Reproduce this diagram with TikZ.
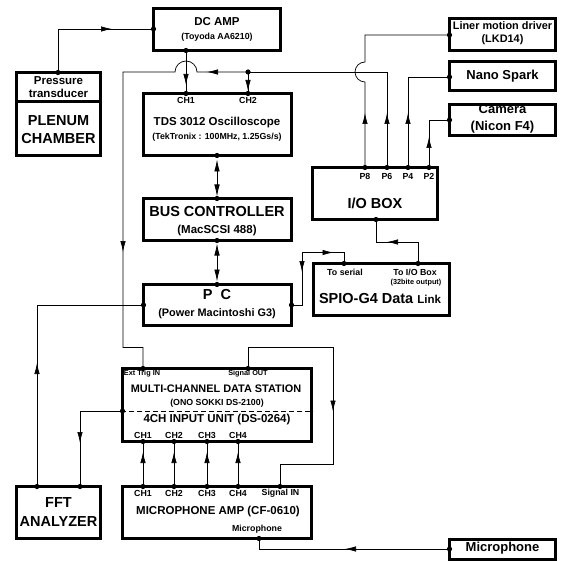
\documentclass[tikz,border=0pt]{standalone}
\usepackage{fontspec}
\setmainfont{Liberation Sans}
\usepackage{tikz}
\usetikzlibrary{arrows.meta}
\usetikzlibrary{decorations.markings}

\tikzset{
  box/.style={draw, line width=3pt, inner sep=0pt},
  wire/.style={line width=0.7pt},
  fwd/.style={postaction={decorate, decoration={markings, mark=at position #1 with {\arrow{>}}}}},
  bwd/.style={postaction={decorate, decoration={markings, mark=at position #1 with {\arrowreversed{>}}}}},
  txt/.style={inner sep=0pt, align=center},
  t145/.style={txt, font=\fontsize{14.5pt}{18pt}\selectfont\bfseries},
  t13/.style={txt, font=\fontsize{13pt}{17pt}\selectfont\bfseries},
  t115/.style={txt, font=\fontsize{11.5pt}{13pt}\selectfont\bfseries},
  t11/.style={txt, font=\fontsize{10.9pt}{13pt}\selectfont\bfseries},
  t88/.style={txt, font=\fontsize{8.8pt}{10pt}\selectfont\bfseries},
  t73/.style={txt, font=\fontsize{7.3pt}{9pt}\selectfont\bfseries}
}

\begin{document}
\begin{tikzpicture}[x=1pt, y=-1pt, >={Latex[length=11pt,width=5.5pt]}]
      \useasboundingbox (0,0) rectangle (564,561);
      % Boxes
      \node[box, minimum width=127pt, minimum height=42pt] (dcamp) at (217,29.5) {};
      \node[box, minimum width=84pt, minimum height=29.5pt] (pres) at (58.5,87.25) {};
      \node[box, minimum width=84pt, minimum height=53.5pt] (plenum) at (58.5,128.75) {};
      \node[box, minimum width=148pt, minimum height=62pt] (osc) at (217.5,124.5) {};
      \node[box, minimum width=148pt, minimum height=42pt] (bus) at (217.5,219.5) {};
      \node[box, minimum width=148pt, minimum height=41pt] (pc) at (217.5,305) {};
      \node[box, minimum width=106pt, minimum height=32pt] (liner) at (502.5,34.5) {};
      \node[box, minimum width=106pt, minimum height=29pt] (nano) at (502.5,76) {};
      \node[box, minimum width=106pt, minimum height=31pt] (camera) at (502.5,120) {};
      \node[box, minimum width=125pt, minimum height=52pt] (iobox) at (375,193.5) {};
      \node[box, minimum width=136pt, minimum height=52pt] (spio) at (381.5,289.5) {};
      \node[box, minimum width=189pt, minimum height=73pt] (station) at (217,405) {};
      \node[box, minimum width=84pt, minimum height=52pt] (fft) at (58.5,512.5) {};
      \node[box, minimum width=189pt, minimum height=52pt] (micamp) at (217,512.5) {};
      \node[box, minimum width=106pt, minimum height=19.5pt] (mic) at (502.5,549.25) {};
      \draw[dashed, dash pattern=on 5pt off 3pt, line width=0.6pt] (station.west |- 0,411) -- (station.east |- 0,411);
      % Texts
      \node[t115] (dcamp-name) at (217,22) {DC AMP};
      \node[t88] (dcamp-type) at (217,37) {(Toyoda AA6210)};
      \node[t115] (pres-name) at (58.5,87.5) {Pressure\\transducer};
      \node[t145] (plenum-name) at (58.5,130) {PLENUM\\CHAMBER};
      \node[t88] (osc-ch1-lbl) at (186,100) {CH1};
      \node[t88] (osc-ch2-lbl) at (248,100) {CH2};
      \node[t115] (osc-name) at (217,123) {TDS 3012 Oscilloscope};
      \node[t88] (osc-type) at (217,137) {(TekTronix : 100MHz, 1.25Gs/s)};
      \node[t145] (bus-name) at (217,212) {BUS CONTROLLER};
      \node[t115] (bus-type) at (217,231) {(MacSCSI 488)};
      \node[t145] (pc-name) at (217,295) {P~~C};
      \node[t11] (pc-type) at (217,314) {(Power Macintoshi G3)};
      \node[t11] (liner-name) at (502.5,33.5) {Liner motion driver\\(LKD14)};
      \node[t13] (nano-name) at (502.5,76) {Nano Spark};
      \node[t13] (camera-name) at (502.5,118.5) {Camera\\(Nicon F4)};
      \node[t88] (io-p8-lbl) at (365,176) {P8};
      \node[t88] (io-p6-lbl) at (387,176) {P6};
      \node[t88] (io-p4-lbl) at (408,176) {P4};
      \node[t88] (io-p2-lbl) at (429,176) {P2};
      \node[t145] (io-name) at (375,203) {I/O BOX};
      \node[t88] (spio-ser-lbl) at (345,272) {To serial};
      \node[t88] (spio-io-lbl) at (415,272) {To I/O Box};
      \node[t73] (spio-out-lbl) at (416,283) {(32bite output)};
      \node[t145] (spio-name) at (380,299) {SPIO-G4 Data {\fontsize{11.5pt}{13pt}\selectfont Link}};
      \node[t73] (st-trig-lbl) at (142,374) {Ext Trig IN};
      \node[t73] (st-out-lbl) at (248,374) {Signal OUT};
      \node[t11] (st-name) at (216,389) {MULTI-CHANNEL DATA STATION};
      \node[t88] (st-type) at (217,403) {(ONO SOKKI DS-2100)};
      \node[t115] (st-unit) at (217,420) {4CH INPUT UNIT (DS-0264)};
      \node[t145] (fft-name) at (58.5,512.5) {FFT\\[1pt]ANALYZER};
      \node[t88] (amp-sig-lbl) at (280.5,493) {Signal IN};
      \node[t115] (amp-name) at (218,512) {MICROPHONE AMP (CF-0610)};
      \node[t88] (amp-mic-lbl) at (257,529) {Microphone};
      \node[t13] (mic-name) at (502.5,548) {Microphone};
      \foreach \i/\x in {1/143, 2/174, 3/207, 4/238} {
        \node[t88] (st-ch\i-lbl) at (\x,435) {CH\i};
        \node[t88] (amp-ch\i-lbl) at (\x,493) {CH\i};
        \coordinate (st-ch\i) at (\x,441.5);
        \coordinate (amp-ch\i) at (\x,486.5);
      }
      % Ports
      \coordinate (dcamp-in) at (153.5,29);
      \coordinate (dcamp-out) at (186,50.5);
      \coordinate (pres-out) at (58,72.5);
      \coordinate (osc-ch1) at (186,93.5);
      \coordinate (osc-ch2) at (248,93.5);
      \coordinate (trig-j) at (248,72);
      \coordinate (osc-bus) at (217,155.5);
      \coordinate (bus-osc) at (217,198.5);
      \coordinate (bus-pc) at (217,240.5);
      \coordinate (pc-bus) at (217,284.5);
      \coordinate (pc-left) at (143.5,305);
      \coordinate (pc-right) at (291.5,305);
      \coordinate (liner-in) at (449.5,35);
      \coordinate (nano-in) at (449.5,77);
      \coordinate (cam-in) at (449.5,120);
      \coordinate (io-p8) at (365,167.5);
      \coordinate (io-p6) at (387,167.5);
      \coordinate (io-p4) at (408,167.5);
      \coordinate (io-p2) at (429,167.5);
      \coordinate (io-out) at (376,219.5);
      \coordinate (spio-ser) at (344,263.5);
      \coordinate (spio-io) at (418,263.5);
      \coordinate (st-trig) at (143,368.5);
      \coordinate (st-out) at (248,368.5);
      \coordinate (st-left) at (122.5,411);
      \coordinate (amp-sig) at (280,486.5);
      \coordinate (amp-mic) at (259,538.5);
      \coordinate (fft-a) at (37,486.5);
      \coordinate (fft-b) at (80,486.5);
      \coordinate (mic-out) at (449.5,549);
      % Connectors
      \draw[wire, fwd=97.5pt] (pres-out) |- (dcamp-in);
      \draw[wire, fwd=34.5pt] (dcamp-out) -- (osc-ch1);
      \draw[wire, fwd=54.5pt] (io-p6) |- (trig-j);
      \draw[wire, fwd=19pt] (trig-j) -- (osc-ch2);
      \draw[wire, fwd=41pt, fwd=317.6pt] (trig-j) -- (197,72) arc[start angle=0, end angle=180, radius=11pt]
            -- (123,72) -- (123,347.5) -- (143,347.5) -- (st-trig);
      \draw[wire, fwd=54.5pt] (io-p8) -- (365,82) arc[start angle=270, end angle=90, radius=10pt] |- (liner-in);
      \draw[wire, fwd=54.5pt] (io-p4) |- (nano-in);
      \draw[wire, fwd=30.5pt] (io-p2) |- (cam-in);
      \draw[wire, {Latex[length=12pt,width=5.5pt]}-{Latex[length=12pt,width=5.5pt]}, shorten <=4pt, shorten >=2pt] (osc-bus) -- (bus-osc);
      \draw[wire, {Latex[length=12pt,width=5.5pt]}-{Latex[length=12pt,width=5.5pt]}, shorten <=3pt, shorten >=3pt] (bus-pc) -- (pc-bus);
      \draw[wire, fwd=52.5pt] (spio-io) -- (418,242) -| (io-out);
      \draw[wire, bwd=43.5pt, fwd=94.5pt] (pc-right) -- (302,305) -- (302,252.5) -| (spio-ser);
      \draw[wire, fwd=123.5pt] (fft-a) |- (pc-left);
      \draw[wire, fwd=74.5pt] (st-left) -| (fft-b);
      \draw[wire, fwd=170pt] (st-out) -- (248,347.5) -- (333,347.5) -- (333,464) -| (amp-sig);
      \foreach \i in {1,...,4}
        \draw[wire, fwd=34.5pt] (amp-ch\i) -- (st-ch\i);
      \draw[wire, fwd=104.5pt] (mic-out) -| (amp-mic);
      % Dots
      \foreach \p in {dcamp-in, dcamp-out, pres-out, osc-ch1, osc-ch2, trig-j, osc-bus, bus-osc, bus-pc, pc-bus,
                      pc-left, pc-right, liner-in, nano-in, cam-in, io-p8, io-p6, io-p4, io-p2, io-out,
                      spio-ser, spio-io, st-trig, st-out, st-left, amp-sig, amp-mic, fft-a, fft-b, mic-out,
                      st-ch1, st-ch2, st-ch3, st-ch4, amp-ch1, amp-ch2, amp-ch3, amp-ch4}
        \fill (\p) circle (2.6pt);
\end{tikzpicture}
\end{document}
